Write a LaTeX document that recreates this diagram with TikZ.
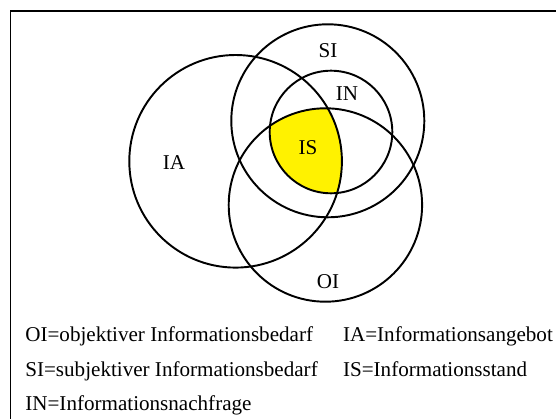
\documentclass[tikz,border=0pt]{standalone}
\usepackage{fontspec}
\setmainfont{Liberation Serif}
\usepackage{xcolor}
\usepackage{tikz}

\begin{document}
\begin{tikzpicture}
    % Define styles
    \tikzset{
        set/.style={draw, line width=1.1pt},
        label/.style={font=\fontsize{12}{14}\selectfont},
        legend/.style={font=\fontsize{12}{14}\selectfont, anchor=base west, inner sep=0pt}
    }

    % Frame
    \useasboundingbox (0,0) rectangle (11.12,-8.38);
    \clip (0,0) rectangle (11.12,-8.38);
    \draw[line width=0.6pt] (0.21,-0.22) rectangle (11.6,-8.9);

    % Overlap IS
    \begin{scope}
        \clip (6.62,-2.64) circle (1.226);
        \clip (6.508,-4.10) circle (1.934);
        \fill[yellow] (4.712,-3.226) circle (2.126);
    \end{scope}

    % Sets
    \draw[set] (4.712,-3.226) circle (2.126);
    \draw[set] (6.556,-2.416) circle (1.93);
    \draw[set] (6.62,-2.64) circle (1.226);
    \draw[set] (6.508,-4.10) circle (1.934);

    % Nodes
    \node[label] (si_label) at (6.56,-1.02) {SI};
    \node[label] (in_label) at (6.94,-1.88) {IN};
    \node[label] (is_label) at (6.16,-2.96) {IS};
    \node[label] (ia_label) at (3.48,-3.26) {IA};
    \node[label] (oi_label) at (6.56,-5.64) {OI};

    % Legend
    \node[legend] (oi_text) at (0.50,-6.83) {OI=objektiver Informationsbedarf};
    \node[legend] (si_text) at (0.50,-7.53) {SI=subjektiver Informationsbedarf};
    \node[legend] (in_text) at (0.50,-8.21) {IN=Informationsnachfrage};
    \node[legend] (ia_text) at (6.854,-6.83) {IA=Informationsangebot};
    \node[legend] (is_text) at (6.854,-7.53) {IS=Informationsstand};
\end{tikzpicture}
\end{document}
